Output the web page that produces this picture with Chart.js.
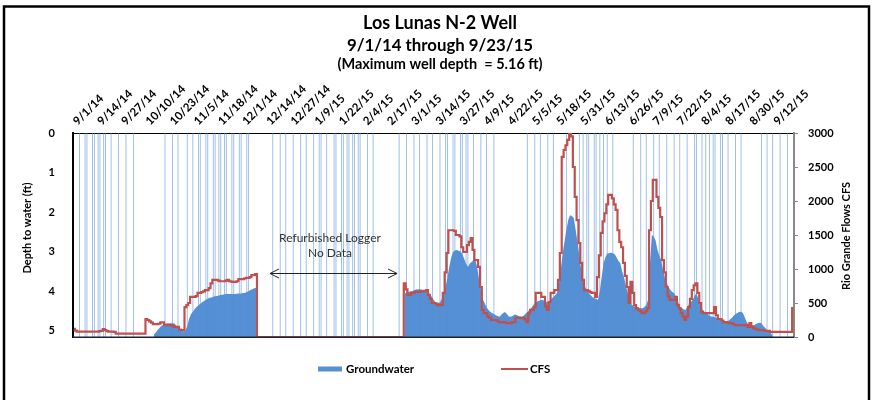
<!DOCTYPE html>
<html>
<head>
<meta charset="utf-8">
<title>Los Lunas N-2 Well</title>
<script src="https://cdn.jsdelivr.net/npm/chart.js@4.4.1/dist/chart.umd.min.js"></script>
<style>
  html, body { margin: 0; padding: 0; background: #ffffff; }
  #wrap { width: 873px; height: 400px; position: relative; }
</style>
</head>
<body>
<div id="wrap"><canvas id="c"></canvas></div>
<script>
// Axis tick labels, one every 13 daily records
const tickLabels = ['9/1/14','9/14/14','9/27/14','10/10/14','10/23/14','11/5/14','11/18/14','12/1/14',
  '12/14/14','12/27/14','1/9/15','1/22/15','2/4/15','2/17/15','3/1/15','3/14/15','3/27/15','4/9/15',
  '4/22/15','5/5/15','5/18/15','5/31/15','6/13/15','6/26/15','7/9/15','7/22/15','8/4/15','8/17/15',
  '8/30/15','9/12/15'];
const tickEvery = 13;
const dayCount = 388;

// Rio Grande flow (cfs), one value per day
const cfs = [
  120,95,80,80,80,80,80,80,80,80,
  80,80,80,80,85,90,115,100,85,80,
  80,80,75,50,50,50,50,50,50,50,
  50,50,50,50,50,50,50,50,50,265,
  250,230,210,190,190,190,195,215,215,180,
  175,175,175,170,150,150,150,110,100,100,
  440,470,500,590,590,590,600,650,650,660,
  670,690,690,720,790,840,840,840,830,820,
  820,820,830,840,820,815,810,810,820,850,
  850,850,860,870,870,880,910,910,925,0,
  0,0,0,0,0,0,0,0,0,0,
  0,0,0,0,0,0,0,0,0,0,
  0,0,0,0,0,0,0,0,0,0,
  0,0,0,0,0,0,0,0,0,0,
  0,0,0,0,0,0,0,0,0,0,
  0,0,0,0,0,0,0,0,0,0,
  0,0,0,0,0,0,0,0,0,0,
  0,0,0,0,0,0,0,0,790,700,
  620,620,650,650,665,665,665,670,670,680,
  690,620,560,500,500,490,470,470,470,650,
  950,1235,1570,1570,1570,1560,1500,1500,1480,1320,
  1250,1250,1350,1400,1455,1280,1130,1130,1030,735,
  400,350,350,300,280,250,250,250,240,220,
  220,220,215,205,205,205,220,220,280,280,
  280,280,280,260,220,350,400,400,440,650,
  650,650,590,590,450,400,515,650,650,690,
  690,840,1235,2650,2750,2820,2900,3000,2950,2500,
  2060,1720,1380,1090,840,690,690,680,660,650,
  650,590,880,1200,1530,1700,1820,1950,2090,2090,
  2040,1950,1870,1570,1400,1320,1090,900,735,500,
  810,650,470,420,400,380,350,350,380,425,
  1570,2000,2310,2310,2060,1900,1765,1130,950,735,
  600,545,545,545,590,470,420,350,300,250,
  300,440,560,690,760,790,650,500,370,350,
  350,350,350,350,350,440,320,265,265,240,
  220,220,210,205,205,190,175,175,175,175,
  175,175,175,150,205,150,130,115,110,100,
  100,100,90,90,90,75,75,75,75,75,
  75,75,75,75,75,75,75,425
];

// Depth to groundwater (ft below surface), one value per day; null = no record
const groundwater = [
  null,null,null,null,null,null,null,null,null,null,
  null,null,null,null,null,null,null,null,null,null,
  null,null,null,null,null,null,null,null,null,null,
  null,null,null,null,null,null,null,null,null,null,
  null,null,null,5.1,5.05,4.98,4.93,4.88,4.85,4.83,
  4.81,4.81,4.81,4.81,4.82,4.86,4.9,4.95,4.98,5.02,
  5.0,4.88,4.7,4.58,4.52,4.45,4.40,4.36,4.32,4.28,
  4.25,4.22,4.19,4.17,4.16,4.14,4.13,4.12,4.11,4.10,
  4.09,4.08,4.07,4.07,4.07,4.07,4.07,4.07,4.06,4.06,
  4.06,4.05,4.05,4.02,4.0,3.97,3.95,3.93,3.92,null,
  null,null,null,null,null,null,null,null,null,null,
  null,null,null,null,null,null,null,null,null,null,
  null,null,null,null,null,null,null,null,null,null,
  null,null,null,null,null,null,null,null,null,null,
  null,null,null,null,null,null,null,null,null,null,
  null,null,null,null,null,null,null,null,null,null,
  null,null,null,null,null,null,null,null,null,null,
  null,null,null,null,null,null,null,null,4.05,4.05,
  4.02,4.0,4.0,3.98,3.96,3.95,3.95,3.96,3.97,3.98,
  4.0,4.05,4.1,4.18,4.25,4.3,4.3,4.28,4.2,4.05,
  3.9,3.65,3.39,3.15,3.01,2.97,2.96,2.98,3.0,3.06,
  3.18,3.3,3.39,3.3,3.26,3.22,3.21,3.39,3.7,3.95,
  4.2,4.3,4.4,4.47,4.52,4.55,4.58,4.61,4.63,4.65,
  4.6,4.55,4.53,4.58,4.64,4.65,4.63,4.6,4.6,4.62,
  4.64,4.65,4.62,4.57,4.53,4.48,4.43,4.37,4.3,4.27,
  4.25,4.23,4.22,4.24,4.27,4.28,4.24,4.19,4.15,4.1,
  4.05,3.8,3.45,3.04,2.75,2.45,2.2,2.08,2.1,2.15,
  2.45,2.75,3.1,3.45,3.72,3.88,3.97,4.05,4.1,4.15,
  4.18,4.2,4.22,4.0,3.64,3.3,3.14,3.05,3.04,3.03,
  3.04,3.07,3.14,3.24,3.29,3.5,3.64,3.85,4.05,4.28,
  4.33,4.37,4.4,4.41,4.42,4.43,4.43,4.4,4.35,4.22,
  3.3,2.58,2.62,2.71,2.95,3.1,3.21,3.45,3.67,3.8,
  3.9,3.97,4.02,4.05,4.15,4.25,4.38,4.42,4.46,4.48,
  4.4,4.33,4.28,4.22,4.12,4.05,4.2,4.35,4.45,4.5,
  4.55,4.58,4.62,4.64,4.65,4.66,4.67,4.68,4.7,4.73,
  4.76,4.78,4.76,4.72,4.68,4.62,4.58,4.55,4.53,4.52,
  4.55,4.66,4.78,4.85,4.86,4.86,4.86,4.83,4.81,4.8,
  4.81,4.88,4.93,4.98,5.02,5.06,5.12,null,null,null,
  null,null,null,null,null,null,null,null
];

// Days on which the logger recorded a depth of 0 ft
const zeroReadingDays = [3,6,7,10,11,13,14,16,17,20,24,28,32,49,53,56,61,64,67,68,71,72,75,76,78,79,
  81,82,85,86,89,90,93,94,107,111,114,118,122,125,129,132,133,136,140,141,144,145,147,148,150,151,
  153,154,158,161,175,179,183,186,190,193,197,200,201,204,205,208,209,211,212,215,219,222,226,244,
  248,251,255,258,265,272,274,276,277,280,281,283,285,287,290,301,305,308,312,315,319,323,326,330,
  334,335,338,340,342,344,345,348,349,352,356,359,370,373,376,380,384];

const wellDepth = 5.16;

const categories = Array.from({length: dayCount}, (_, i) =>
  i % tickEvery === 0 ? (tickLabels[i / tickEvery] || '') : '');
const zeroReadings = Array.from({length: dayCount}, (_, i) =>
  zeroReadingDays.includes(i) ? 0 : null);

const BLUE = '#5590d5';
const RED = '#c0504d';
const FONT = 'Lato, "Liberation Sans", sans-serif';

// Layout of the drawing
const PLOT = { left: 73, right: 794, top: 133, bottom: 337 };
const gapNote = { lines: ['Refurbished Logger', 'No Data'], day: 137.8, depths: [2.66, 3.04],
                  arrowFrom: 105.5, arrowTo: 173.9, arrowDepth: 3.54 };

const decorations = {
  id: 'decorations',
  afterDraw(chart) {
    const c = chart.ctx;
    const area = chart.chartArea;
    const xs = chart.scales.x, yd = chart.scales.yDepth;
    c.save();

    // bottom edge of the plot
    c.strokeStyle = '#1c2433';
    c.lineWidth = 1.5;
    c.beginPath();
    c.moveTo(area.left, area.bottom + 0.25);
    c.lineTo(area.right, area.bottom + 0.25);
    c.stroke();

    // outer frame
    c.strokeStyle = '#000';
    c.lineWidth = 2.5;
    c.strokeRect(4, 6.5, 865, 420);

    // titles
    c.fillStyle = '#000';
    c.textAlign = 'center';
    c.textBaseline = 'middle';
    c.font = 'bold 18px ' + FONT;
    c.fillText('Los Lunas N-2 Well', 440, 23);
    c.font = 'bold 16.8px ' + FONT;
    c.fillText('9/1/14 through 9/23/15', 440, 46);
    c.font = 'bold 14.5px ' + FONT;
    c.fillText('(Maximum well depth  = 5.16 ft)', 440, 64);

    // axis titles
    c.font = 'bold 11px ' + FONT;
    c.save();
    c.translate(27, 228);
    c.rotate(-Math.PI / 2);
    c.fillText('Depth to water (ft)', 0, 0);
    c.restore();
    c.save();
    c.translate(846, 236);
    c.rotate(-Math.PI / 2);
    c.fillText('Rio Grande Flows CFS', 0, 0);
    c.restore();

    // note over the logger gap
    c.fillStyle = '#333';
    c.font = '12px ' + FONT;
    const nx = xs.getPixelForValue(gapNote.day);
    gapNote.lines.forEach((t, k) => c.fillText(t, nx, yd.getPixelForValue(gapNote.depths[k])));
    const ax1 = xs.getPixelForValue(gapNote.arrowFrom);
    const ax2 = xs.getPixelForValue(gapNote.arrowTo);
    const ay = Math.round(yd.getPixelForValue(gapNote.arrowDepth)) + 0.5;
    c.strokeStyle = '#222';
    c.lineWidth = 1;
    c.beginPath();
    c.moveTo(ax1, ay); c.lineTo(ax2, ay);
    c.moveTo(ax1 + 9, ay - 4.5); c.lineTo(ax1, ay); c.lineTo(ax1 + 9, ay + 4.5);
    c.moveTo(ax2 - 9, ay - 4.5); c.lineTo(ax2, ay); c.lineTo(ax2 - 9, ay + 4.5);
    c.stroke();

    // legend
    const gw = chart.data.datasets.find(d => d.label === 'Groundwater');
    const fl = chart.data.datasets.find(d => d.label === 'CFS');
    c.textAlign = 'left';
    c.fillStyle = gw.backgroundColor;
    c.fillRect(318, 366.5, 24, 5);
    c.fillStyle = '#000';
    c.font = 'bold 11.5px ' + FONT;
    c.fillText(gw.label, 346, 369);
    c.strokeStyle = fl.borderColor;
    c.lineWidth = 2;
    c.beginPath();
    c.moveTo(501, 369); c.lineTo(528, 369);
    c.stroke();
    c.fillText(fl.label, 530, 369);

    c.restore();
  }
};

new Chart(document.getElementById('c'), {
  type: 'bar',
  data: {
    labels: categories,
    datasets: [
      {
        type: 'line', label: 'CFS', data: cfs, yAxisID: 'yFlow',
        borderColor: RED, borderWidth: 2.2, pointRadius: 0, tension: 0,
        stepped: 'middle', fill: false, order: 0
      },
      {
        type: 'bar', label: 'Zero readings', data: zeroReadings, yAxisID: 'yDepth',
        base: wellDepth, backgroundColor: 'rgba(85,142,213,0.6)', borderWidth: 0,
        barPercentage: 0.5, categoryPercentage: 1, grouped: false, order: 1
      },
      {
        type: 'line', label: 'Groundwater', data: groundwater, yAxisID: 'yDepth',
        borderWidth: 0, borderColor: BLUE, backgroundColor: BLUE, pointRadius: 0,
        tension: 0, spanGaps: false, fill: { value: wellDepth }, order: 2
      }
    ]
  },
  options: {
    responsive: true,
    maintainAspectRatio: false,
    animation: false,
    devicePixelRatio: 1,
    layout: { padding: { top: 0, left: 0, right: 0, bottom: 400 - PLOT.bottom } },
    plugins: {
      legend: { display: false },
      title: { display: false },
      tooltip: { enabled: false }
    },
    scales: {
      x: {
        type: 'category',
        position: 'top',
        offset: true,
        grid: { display: false, drawTicks: false },
        border: { display: true, color: '#000', width: 1 },
        ticks: {
          autoSkip: false, minRotation: 45, maxRotation: 45, padding: 5, labelOffset: 11,
          color: '#000', font: { family: FONT, weight: 'bold', size: 11.5 },
          callback: (v, i) => categories[i] || null
        },
        afterFit: s => { s.height = PLOT.top; }
      },
      yDepth: {
        type: 'linear', position: 'left', reverse: true,
        min: 0, max: wellDepth,
        grid: { display: false },
        border: { display: true, color: '#000', width: 2 },
        ticks: {
          stepSize: 1, includeBounds: false, padding: 10,
          color: '#000', font: { family: FONT, weight: 'bold', size: 11 }
        },
        afterFit: s => { s.width = PLOT.left; }
      },
      yFlow: {
        type: 'linear', position: 'right',
        min: 0, max: 3000,
        grid: { display: true, drawOnChartArea: false, drawTicks: true, tickLength: 4, color: '#888' },
        border: { display: true, color: '#888', width: 2 },
        ticks: {
          stepSize: 500, padding: 10,
          color: '#000', font: { family: FONT, weight: 'bold', size: 11 },
          callback: v => String(v)
        },
        afterFit: s => { s.width = 873 - PLOT.right; }
      }
    }
  },
  plugins: [decorations]
});
</script>
</body>
</html>
